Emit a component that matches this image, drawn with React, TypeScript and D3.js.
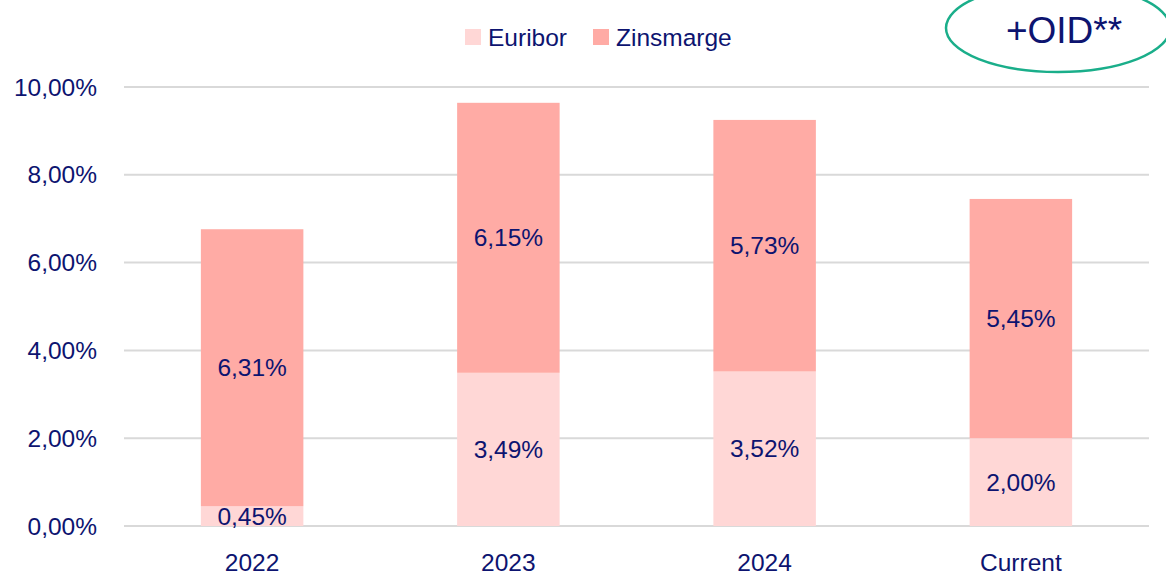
import React from "react";
import * as d3 from "d3";

const categories = ["2022", "2023", "2024", "Current"];
const euribor = [0.45, 3.49, 3.52, 2.0];
const zinsmarge = [6.31, 6.15, 5.73, 5.45];
const yTicks = [0, 2, 4, 6, 8, 10];
const seriesNames = ["Euribor", "Zinsmarge"];

const W = 1166;
const H = 574;
const TEXT = "#0d1470";
const COLORS = ["#FFD7D6", "#FFABA5"];
const FONT = "'Liberation Sans', Arial, sans-serif";
const FS = 24.5;

const fmt = (v: number) => v.toFixed(2).replace(".", ",") + "%";

export default function App() {
  const x = d3.scaleBand<string>().domain(categories).range([124, 1149]).paddingInner(0.6).paddingOuter(0.3);
  const y = d3.scaleLinear().domain([0, 10]).range([526, 87]);

  return (
    <svg width={W} height={H} style={{ position: "absolute", left: 0, top: 0 }} fontFamily={FONT}>
      <rect width={W} height={H} fill="#fff" />
      {yTicks.map((t) => (
        <g key={t}>
          <line x1={124} x2={1149} y1={y(t)} y2={y(t)} stroke="#d9d9d9" strokeWidth={2} />
          <text x={97} y={y(t)} dy="0.35em" textAnchor="end" fontSize={FS} fill={TEXT}>
            {fmt(t)}
          </text>
        </g>
      ))}
      {categories.map((c, i) => {
        const bx = x(c)!;
        const bw = x.bandwidth();
        const e = euribor[i];
        const z = zinsmarge[i];
        return (
          <g key={c}>
            <rect x={bx} width={bw} y={y(e)} height={y(0) - y(e)} fill={COLORS[0]} />
            <rect x={bx} width={bw} y={y(e + z)} height={y(e) - y(e + z)} fill={COLORS[1]} />
            <text x={bx + bw / 2} y={y(e / 2)} dy="0.35em" textAnchor="middle" fontSize={FS} fill={TEXT}>
              {fmt(e)}
            </text>
            <text x={bx + bw / 2} y={y(e + z / 2)} dy="0.35em" textAnchor="middle" fontSize={FS} fill={TEXT}>
              {fmt(z)}
            </text>
            <text x={bx + bw / 2} y={562} dy="0.35em" textAnchor="middle" fontSize={FS} fill={TEXT}>
              {c}
            </text>
          </g>
        );
      })}
      {seriesNames.map((s, i) => {
        const lx = [465, 593][i];
        return (
          <g key={s}>
            <rect x={lx} y={29} width={16} height={16} fill={COLORS[i]} />
            <text x={lx + 23} y={37} dy="0.35em" fontSize={FS} fill={TEXT}>
              {s}
            </text>
          </g>
        );
      })}
      <ellipse cx={1058} cy={28} rx={112} ry={44} fill="none" stroke="#1aae8a" strokeWidth={2.5} />
      <text x={1064} y={30} dy="0.35em" textAnchor="middle" fontSize={37} fill={TEXT}>
        +OID**
      </text>
    </svg>
  );
}
